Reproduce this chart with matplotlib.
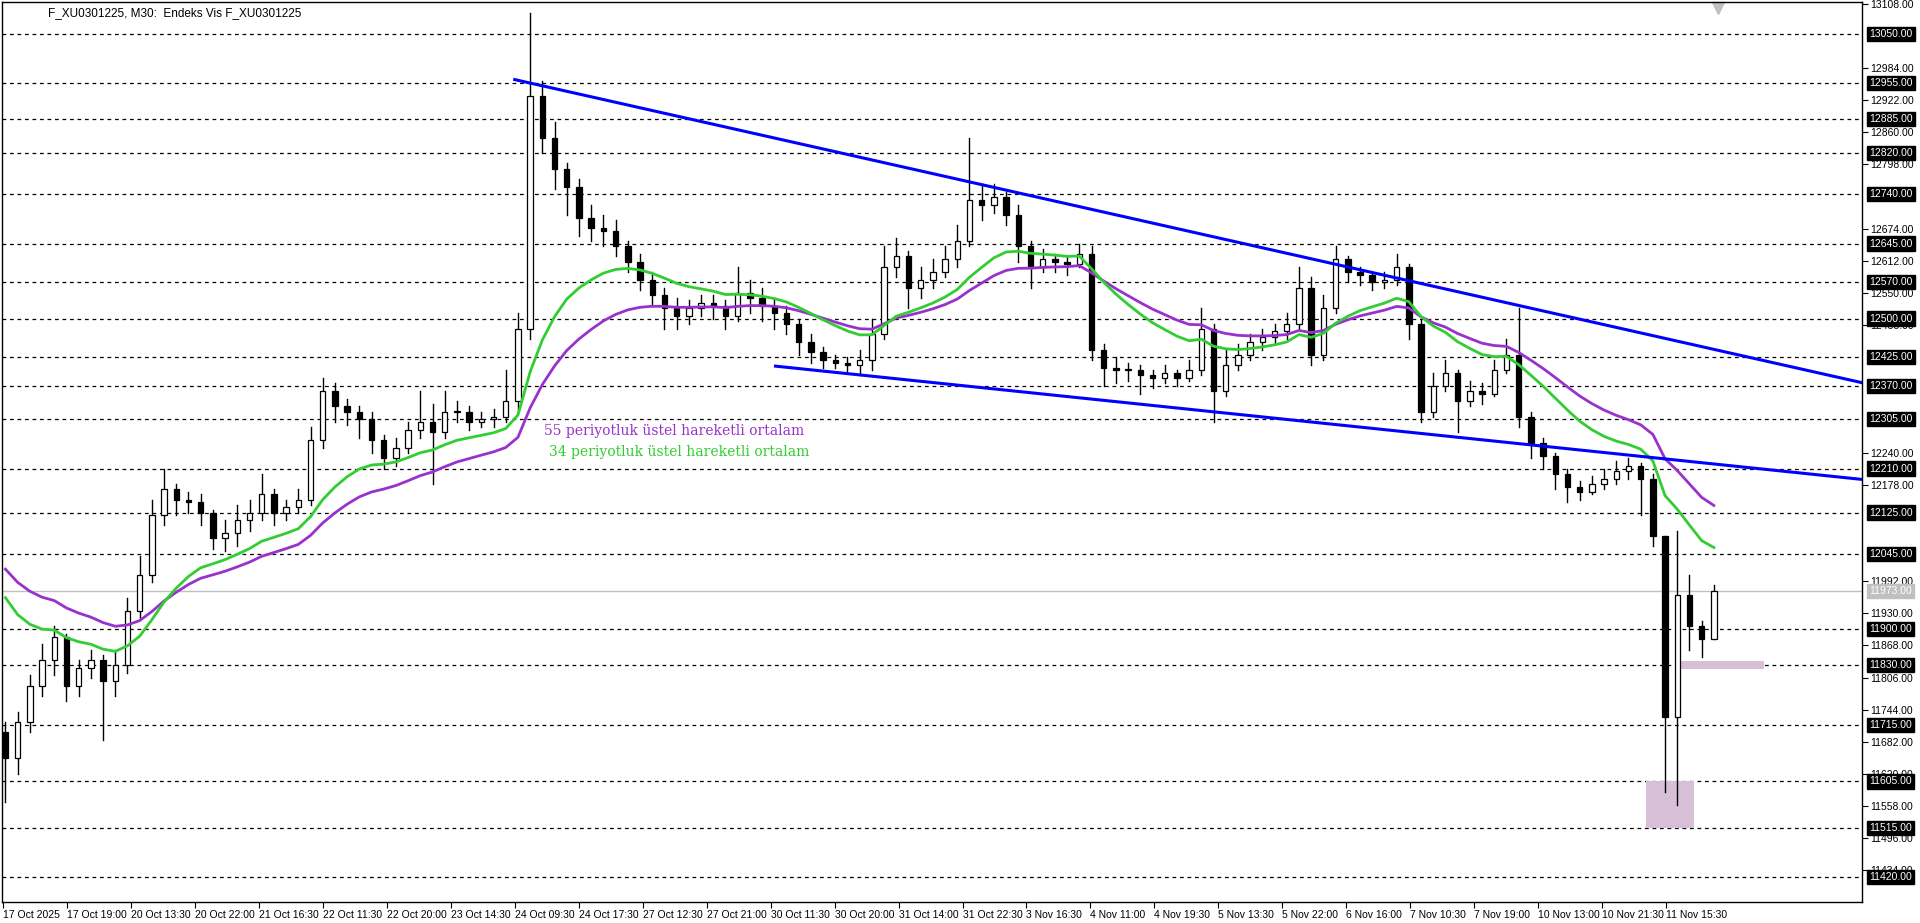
import numpy as np
import matplotlib.pyplot as plt
from matplotlib.patches import Rectangle

closes = [11650, 11720, 11790, 11840, 11885, 11790, 11825, 11840, 11800, 11830,
          11935, 12005, 12120, 12170, 12150, 12145, 12125, 12075, 12085, 12110,
          12125, 12160, 12125, 12135, 12150, 12265, 12360, 12330, 12320, 12305,
          12265, 12230, 12250, 12285, 12300, 12280, 12320, 12320, 12300, 12305,
          12310, 12340, 12480, 12930, 12850, 12790, 12755, 12695, 12675, 12670,
          12640, 12610, 12575, 12545, 12520, 12505, 12520, 12530, 12525, 12505,
          12550, 12540, 12525, 12510, 12490, 12455, 12435, 12420, 12415, 12410,
          12420, 12470, 12600, 12620, 12560, 12575, 12590, 12615, 12650, 12730,
          12720, 12735, 12700, 12640, 12600, 12615, 12610, 12605, 12625, 12440,
          12405, 12400, 12400, 12390, 12385, 12395, 12385, 12400, 12480, 12360,
          12410, 12430, 12455, 12465, 12475, 12490, 12560, 12430, 12520, 12615,
          12590, 12585, 12570, 12575, 12600, 12490, 12320, 12370, 12395, 12340,
          12360, 12355, 12400, 12430, 12310, 12260, 12235, 12200, 12175, 12165,
          12180, 12190, 12205, 12215, 12190, 12080, 11729, 11965, 11905, 11880,
          11973]
highs = [11720, 11740, 11810, 11870, 11905, 11890, 11840, 11860, 11850, 11860,
         11960, 12040, 12150, 12210, 12180, 12165, 12160, 12130, 12110, 12140,
         12150, 12200, 12170, 12150, 12170, 12290, 12385, 12375, 12345, 12330,
         12320, 12275, 12270, 12300, 12360, 12335, 12360, 12340, 12330, 12320,
         12325, 12400, 12510, 13090, 12960, 12880, 12800, 12770, 12720, 12700,
         12690, 12650, 12625, 12590, 12560, 12540, 12535, 12545, 12545, 12535,
         12600, 12575, 12560, 12540, 12525, 12500, 12470, 12445, 12430, 12425,
         12440, 12500, 12640, 12655, 12630, 12600, 12615, 12640, 12680, 12850,
         12760, 12760, 12745, 12720, 12650, 12635, 12625, 12620, 12645, 12640,
         12450, 12425, 12415, 12410, 12400, 12410, 12400, 12420, 12520, 12490,
         12440, 12450, 12470, 12480, 12490, 12510, 12600, 12580, 12545, 12640,
         12620, 12600, 12590, 12590, 12625, 12605, 12500, 12395, 12420, 12400,
         12380, 12375, 12420, 12460, 12520, 12320, 12270, 12240, 12210, 12185,
         12195, 12210, 12225, 12230, 12220, 12200, 12080, 12090, 12005, 11915,
         11985]
lows = [11565, 11620, 11700, 11770, 11810, 11760, 11770, 11805, 11685, 11770,
        11815, 11920, 11990, 12100, 12120, 12125, 12100, 12055, 12050, 12060,
        12090, 12110, 12100, 12110, 12125, 12140, 12250, 12300, 12295, 12270,
        12240, 12210, 12215, 12240, 12270, 12180, 12270, 12300, 12285, 12290,
        12290, 12300, 12320, 12460, 12820, 12750, 12700, 12660, 12650, 12640,
        12620, 12590, 12555, 12525, 12480, 12480, 12490, 12505, 12500, 12480,
        12495, 12510, 12495, 12480, 12470, 12430, 12415, 12405, 12405, 12395,
        12390, 12400, 12460, 12580, 12520, 12540, 12560, 12580, 12600, 12640,
        12690, 12705, 12680, 12610, 12560, 12590, 12590, 12585, 12600, 12420,
        12370, 12375, 12380, 12355, 12365, 12375, 12370, 12380, 12390, 12300,
        12350, 12400, 12420, 12440, 12450, 12460, 12480, 12410, 12420, 12510,
        12570, 12565, 12555, 12560, 12565, 12460, 12300, 12310, 12360, 12280,
        12330, 12335, 12350, 12395, 12290, 12230, 12210, 12170, 12145, 12150,
        12160, 12170, 12180, 12190, 12120, 12060, 11584, 11560, 11860, 11845,
        11880]
first_open = 11700
ema_seed = {34: 12009, 55: 12050}

levels = [13050, 12955, 12885, 12820, 12740, 12645, 12570, 12500, 12425, 12370,
          12305, 12210, 12125, 12045, 11900, 11830, 11715, 11605, 11515, 11420]
last_price = 11973
tick_labels = ['17 Oct 2025', '17 Oct 19:00', '20 Oct 13:30', '20 Oct 22:00', '21 Oct 16:30',
               '22 Oct 11:30', '22 Oct 20:00', '23 Oct 14:30', '24 Oct 09:30', '24 Oct 17:30',
               '27 Oct 12:30', '27 Oct 21:00', '30 Oct 11:30', '30 Oct 20:00', '31 Oct 14:00',
               '31 Oct 22:30', '3 Nov 16:30', '4 Nov 11:00', '4 Nov 19:30', '5 Nov 13:30',
               '5 Nov 22:00', '6 Nov 16:00', '7 Nov 10:30', '7 Nov 19:00', '10 Nov 13:00',
               '10 Nov 21:30', '11 Nov 15:30']
upper_line = ((104.5, 12962), (378.3, 12376))
lower_line = ((157.5, 12408), (378.3, 12189))

n = len(closes)
x = 1.0 + 2.48 * np.arange(n)
opens = [first_open] + closes[:-1]


def ema(values, period, seed, bars_per_step=2.48):
    a = 1 - (1 - 2 / (period + 1)) ** bars_per_step
    out = []
    v = seed
    for c in values:
        v = v + a * (c - v)
        out.append(v)
    return np.array(out)


plt.rcParams['font.family'] = ['Liberation Sans', 'DejaVu Sans']
fig = plt.figure(figsize=(19.2, 9.23), dpi=100)
ax = fig.add_axes([2 / 1920, 21 / 923, 1860 / 1920, 900 / 923])
ax.set_ylim(11372, 13112)
ax.set_xlim(0.3, 378.3)

for lv in levels:
    ax.axhline(lv, color='black', lw=0.9, ls=(0, (3, 3)), zorder=1)
ax.axhline(last_price, color='#c0c0c0', lw=1, zorder=1)

# pink zones
ax.add_patch(Rectangle((334.4, 11515), 9.7, 90, color='#d8bfd8', zorder=2, lw=0))
ax.add_patch(Rectangle((340.5, 11822), 17.9, 16, color='#d8bfd8', zorder=2, lw=0))

w = 1.1
for xi, o, h, l, c in zip(x, opens, highs, lows, closes):
    ax.plot([xi, xi], [l, h], color='black', lw=1, zorder=3)
    up = c >= o
    ax.add_patch(Rectangle((xi - w / 2, min(o, c)), w, max(abs(c - o), 2),
                           facecolor='white' if up else 'black', edgecolor='black',
                           lw=0.9, zorder=4))

ax.plot(x, ema(closes, 55, ema_seed[55]), color='#9932cc', lw=2, zorder=5)
ax.plot(x, ema(closes, 34, ema_seed[34]), color='#32cd32', lw=2, zorder=5)

for (x0, y0), (x1, y1) in (upper_line, lower_line):
    ax.plot([x0, x1], [y0, y1], color='#0000ff', lw=2.2, zorder=6)

ax.text(110.5, 12283, '55 periyotluk üstel hareketli ortalam', color='#9932cc',
        fontsize=10, family='DejaVu Serif', va='center')
ax.text(111.5, 12242, '34 periyotluk üstel hareketli ortalam', color='#32cd32',
        fontsize=10, family='DejaVu Serif', va='center')
ax.plot([349], [13100], marker='v', color='#c0c0c0', ms=8, clip_on=False)

# axes styling
for s in ax.spines.values():
    s.set_color('black')
    s.set_linewidth(1)
ax.yaxis.tick_right()
yt = [13108 - 62 * k for k in range(28)]
yt = [v for v in yt if min(abs(v - lv) for lv in levels) > 10]
ax.set_yticks(yt)
ax.set_yticklabels([f'{v:.2f}' for v in yt], fontsize=7.5)
ax.tick_params(axis='y', length=4, pad=2)
xt = [0.5 + 13 * k for k in range(len(tick_labels))]
ax.set_xticks(xt)
ax.set_xticklabels(tick_labels, fontsize=7.5, ha='left')
ax.tick_params(axis='x', length=4, pad=2)

for lv in levels:
    ax.text(1.004, lv, f'{lv:.2f}', transform=ax.get_yaxis_transform(), fontsize=7.5,
            color='white', va='center', ha='left', zorder=10,
            bbox=dict(boxstyle='square,pad=0.2', fc='black', ec='black'))
ax.text(1.004, last_price, f'{last_price:.2f}', transform=ax.get_yaxis_transform(),
        fontsize=7.5, color='white', va='center', ha='left', zorder=10,
        bbox=dict(boxstyle='square,pad=0.2', fc='#c0c0c0', ec='#c0c0c0'))

fig.text(48 / 1920, 1 - 13 / 923, 'F_XU0301225, M30:  Endeks Vis F_XU0301225',
         fontsize=8.5, va='center')
fig.savefig('out.png', dpi=100, facecolor='white')
